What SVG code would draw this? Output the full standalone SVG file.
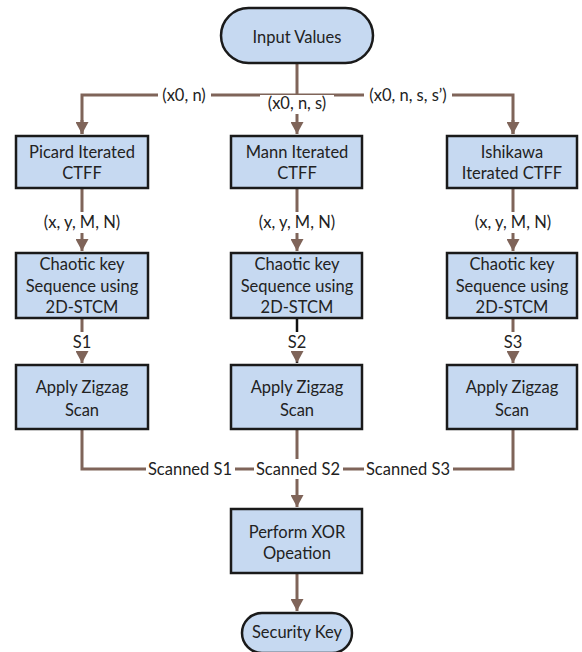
<svg xmlns="http://www.w3.org/2000/svg" width="582" height="652" viewBox="0 0 582 652">
  <style>
    .box { fill: #c6d9f1; stroke: #1a1a1a; stroke-width: 2.5; }
    .lbl { font-family: Lato, "Open Sans", "Liberation Sans", sans-serif; font-size: 16.5px; fill: #222; text-anchor: middle; }
    .wire { fill: none; stroke: #7f6459; stroke-width: 3; }
    .wire-dark { fill: none; stroke: #111; stroke-width: 2.5; }
    .bg { fill: #fff; }
  </style>
  <defs>
    <marker id="arrow" markerUnits="userSpaceOnUse" markerWidth="13" markerHeight="13" refX="12" refY="6.5" orient="auto">
      <path d="M0,0 L12,6.5 L0,13 Z" fill="#7f6459"/>
    </marker>
  </defs>

  <rect width="582" height="652" fill="#fff"/>

  <!-- connectors -->
  <g id="connectors">
    <!-- fan-out from the input -->
    <path class="wire" d="M297,63 V134" marker-end="url(#arrow)"/>
    <path class="wire" d="M82,134 V95 H513 V134" />
    <path class="wire" d="M82,120 V134" marker-end="url(#arrow)"/>
    <path class="wire" d="M513,120 V134" marker-end="url(#arrow)"/>
    <rect class="bg" x="158" y="86" width="53" height="19"/>
    <rect class="bg" x="260" y="95" width="74" height="19"/>
    <rect class="bg" x="364" y="86" width="88" height="19"/>
    <text class="lbl" x="184" y="101">(x0, n)</text>
    <text class="lbl" x="297" y="109">(x0, n, s)</text>
    <text class="lbl" x="408" y="101">(x0, n, s, s’)</text>

    <!-- CTFF to key sequence -->
    <path class="wire" d="M82,188 V251" marker-end="url(#arrow)"/>
    <path class="wire" d="M297,188 V251" marker-end="url(#arrow)"/>
    <path class="wire" d="M513,188 V251" marker-end="url(#arrow)"/>
    <rect class="bg" x="38" y="212" width="88" height="21"/>
    <rect class="bg" x="253" y="212" width="88" height="21"/>
    <rect class="bg" x="469" y="212" width="88" height="21"/>
    <text class="lbl" x="82" y="228">(x, y, M, N)</text>
    <text class="lbl" x="297" y="228">(x, y, M, N)</text>
    <text class="lbl" x="513" y="228">(x, y, M, N)</text>

    <!-- key sequence to zigzag scan -->
    <path class="wire" d="M82,318 V363" marker-end="url(#arrow)"/>
    <path class="wire-dark" d="M297,310 V363" marker-end="url(#arrow)"/>
    <path class="wire" d="M513,318 V363" marker-end="url(#arrow)"/>
    <rect class="bg" x="71" y="332" width="22" height="19"/>
    <rect class="bg" x="286" y="332" width="22" height="19"/>
    <rect class="bg" x="502" y="332" width="22" height="19"/>
    <text class="lbl" x="82" y="348">S1</text>
    <text class="lbl" x="297" y="348">S2</text>
    <text class="lbl" x="513" y="348">S3</text>

    <!-- scanned streams merge into XOR -->
    <path class="wire" d="M82,429 V469 H513 V429"/>
    <path class="wire" d="M297,429 V507" marker-end="url(#arrow)"/>
    <rect class="bg" x="146" y="459" width="89" height="20"/>
    <rect class="bg" x="254" y="459" width="89" height="20"/>
    <rect class="bg" x="364" y="459" width="89" height="20"/>
    <text class="lbl" x="190" y="475">Scanned S1</text>
    <text class="lbl" x="298" y="475">Scanned S2</text>
    <text class="lbl" x="408" y="475">Scanned S3</text>

    <!-- XOR to output -->
    <path class="wire" d="M297,573 V611" marker-end="url(#arrow)"/>
  </g>

  <!-- nodes -->
  <g id="input-values">
    <rect class="box" x="221" y="8" width="152" height="55" rx="27.5"/>
    <text class="lbl" x="297" y="43">Input Values</text>
  </g>

  <g id="picard">
    <rect class="box" x="16" y="136" width="132" height="52"/>
    <text class="lbl" x="82" y="158">Picard Iterated</text>
    <text class="lbl" x="82" y="179">CTFF</text>
  </g>
  <g id="mann">
    <rect class="box" x="231" y="136" width="131" height="52"/>
    <text class="lbl" x="297" y="158">Mann Iterated</text>
    <text class="lbl" x="297" y="179">CTFF</text>
  </g>
  <g id="ishikawa">
    <rect class="box" x="447" y="136" width="130" height="52"/>
    <text class="lbl" x="512" y="158">Ishikawa</text>
    <text class="lbl" x="512" y="179">Iterated CTFF</text>
  </g>

  <g id="chaotic-1">
    <rect class="box" x="16" y="253" width="132" height="65"/>
    <text class="lbl" x="82" y="270">Chaotic key</text>
    <text class="lbl" x="82" y="292">Sequence using</text>
    <text class="lbl" x="82" y="313">2D-STCM</text>
  </g>
  <g id="chaotic-2">
    <rect class="box" x="231" y="253" width="131" height="65"/>
    <text class="lbl" x="297" y="270">Chaotic key</text>
    <text class="lbl" x="297" y="292">Sequence using</text>
    <text class="lbl" x="297" y="313">2D-STCM</text>
  </g>
  <g id="chaotic-3">
    <rect class="box" x="447" y="253" width="130" height="65"/>
    <text class="lbl" x="512" y="270">Chaotic key</text>
    <text class="lbl" x="512" y="292">Sequence using</text>
    <text class="lbl" x="512" y="313">2D-STCM</text>
  </g>

  <g id="zigzag-1">
    <rect class="box" x="16" y="365" width="132" height="64"/>
    <text class="lbl" x="82" y="393">Apply Zigzag</text>
    <text class="lbl" x="82" y="416">Scan</text>
  </g>
  <g id="zigzag-2">
    <rect class="box" x="231" y="365" width="131" height="64"/>
    <text class="lbl" x="297" y="393">Apply Zigzag</text>
    <text class="lbl" x="297" y="416">Scan</text>
  </g>
  <g id="zigzag-3">
    <rect class="box" x="447" y="365" width="130" height="64"/>
    <text class="lbl" x="512" y="393">Apply Zigzag</text>
    <text class="lbl" x="512" y="416">Scan</text>
  </g>

  <g id="xor">
    <rect class="box" x="231" y="509" width="131" height="64"/>
    <text class="lbl" x="297" y="538">Perform XOR</text>
    <text class="lbl" x="297" y="559">Opeation</text>
  </g>

  <g id="security-key">
    <rect class="box" x="242" y="613" width="110" height="40" rx="20"/>
    <text class="lbl" x="297" y="638">Security Key</text>
  </g>
</svg>
